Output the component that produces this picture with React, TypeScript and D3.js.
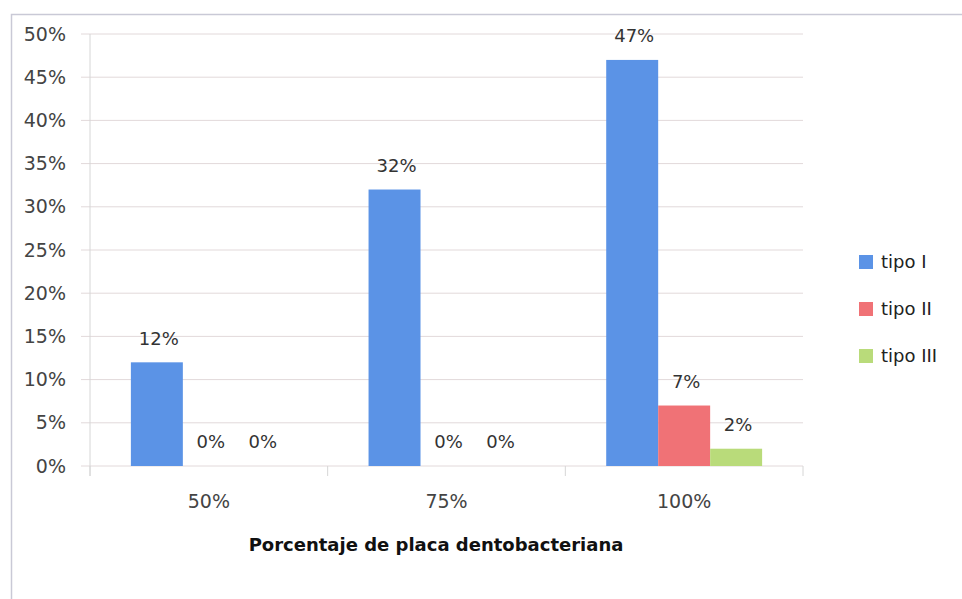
import React from "react";
import * as d3 from "d3";

const categories = ["50%", "75%", "100%"];
const seriesNames = ["tipo I", "tipo II", "tipo III"];
const tipoI = [12, 32, 47];
const tipoII = [0, 0, 7];
const tipoIII = [0, 0, 2];
const yTicks = [0, 5, 10, 15, 20, 25, 30, 35, 40, 45, 50];
const colors = ["#5b93e6", "#f07276", "#b9db7a"];
const xTitle = "Porcentaje de placa dentobacteriana";

export default function App() {
  const W = 962, H = 599;
  const left = 90, right = 803, top = 34, bottom = 466;
  const series = [tipoI, tipoII, tipoIII];
  const x0 = d3.scaleBand().domain(categories).range([left, right]).paddingInner(0.344).paddingOuter(0.172);
  const x1 = d3.scaleBand().domain(seriesNames).range([0, x0.bandwidth()]);
  const y = d3.scaleLinear().domain([0, 50]).range([bottom, top]);
  const font = "'DejaVu Sans', sans-serif";
  const boundaries = d3.range(categories.length + 1).map(i => left + i * x0.step());
  return (
    <svg width={W} height={H} style={{ position: "absolute", left: 0, top: 0, background: "#fff" }} fontFamily={font}>
      <rect x={0} y={0} width={W} height={H} fill="#fff" />
      <path d={`M11.5,${H} L11.5,14.5 L${W},14.5`} fill="none" stroke="#c9c9d6" strokeWidth={1.5} />
      {yTicks.map(t => (
        <g key={t}>
          <line x1={81} x2={right} y1={y(t)} y2={y(t)} stroke="#e2d9da" strokeWidth={1} />
          <text x={66} y={y(t)} dy="0.35em" textAnchor="end" fontSize={19} fill="#444">{t}%</text>
        </g>
      ))}
      <line x1={left} x2={left} y1={top} y2={bottom + 10} stroke="#d6d6d6" />
      {boundaries.map((b, i) => (
        <line key={i} x1={b} x2={b} y1={bottom} y2={bottom + 10} stroke="#d6d6d6" />
      ))}
      {categories.map((c, ci) => (
        <g key={c}>
          {series.map((s, si) => {
            const xv = (x0(c) as number) + (x1(seriesNames[si]) as number);
            const v = s[ci];
            return (
              <g key={si}>
                {v > 0 && (
                  <rect x={xv} y={y(v)} width={x1.bandwidth()} height={y(0) - y(v)} fill={colors[si]} />
                )}
                <text x={xv + x1.bandwidth() / 2 + 2} y={y(v) - 24} dy="0.35em" textAnchor="middle" fontSize={18} fill="#333">{v}%</text>
              </g>
            );
          })}
          <text x={(x0(c) as number) + x0.bandwidth() / 2} y={501} dy="0.35em" textAnchor="middle" fontSize={19} fill="#444">{c}</text>
        </g>
      ))}
      <text x={436} y={545} dy="0.35em" textAnchor="middle" fontSize={18} fontWeight="bold" fill="#111">{xTitle}</text>
      {seriesNames.map((n, i) => (
        <g key={n}>
          <rect x={859} y={255 + i * 47} width={14} height={14} fill={colors[i]} />
          <text x={881} y={262 + i * 47} dy="0.35em" fontSize={18} fill="#222">{n}</text>
        </g>
      ))}
    </svg>
  );
}
